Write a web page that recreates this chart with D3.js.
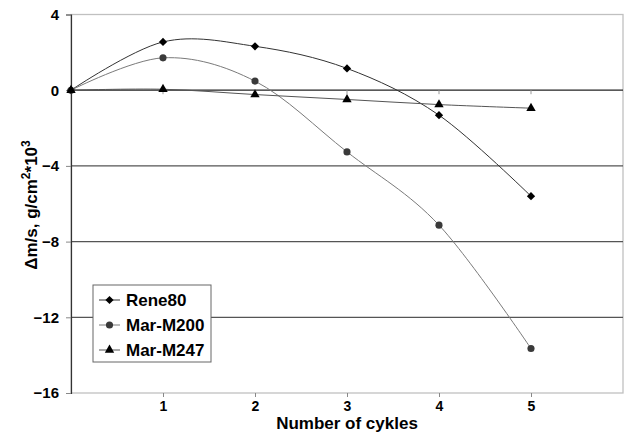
<!DOCTYPE html>
<html>
<head>
<meta charset="utf-8">
<script src="https://cdn.jsdelivr.net/npm/d3@7"></script>
<style>
body{margin:0;background:#fff;}
text{font-family:Arial,"Liberation Sans",sans-serif;font-weight:bold;fill:#000;}
</style>
</head>
<body>
<div id="chart"></div>
<script>
// cycles and mass change per alloy
var cycles = [0, 1, 2, 3, 4, 5];
var rene80 = [0, 2.55, 2.32, 1.15, -1.32, -5.6];
var marM200 = [0, 1.71, 0.48, -3.26, -7.13, -13.65];
var marM247 = [0, 0.05, -0.23, -0.49, -0.76, -0.95];
var yTicks = [4, 0, -4, -8, -12, -16];
var xTicks = [1, 2, 3, 4, 5];

var width = 627, height = 434;
var pLeft = 71, pRight = 623, pTop = 14.5, pBottom = 393;

var svg = d3.select("#chart").append("svg")
	.attr("width", width)
	.attr("height", height);

var x = d3.scaleLinear().domain([0, 6]).range([pLeft, pRight]);
var y = d3.scaleLinear().domain([-16, 4]).range([pBottom, pTop]);

// plot border (light grey)
svg.append("rect")
	.attr("x", pLeft).attr("y", pTop)
	.attr("width", pRight - pLeft).attr("height", pBottom - pTop)
	.attr("fill", "none").attr("stroke", "#c0c0c0").attr("stroke-width", 1.3);

// gridlines
svg.selectAll(".grid").data([0, -4, -8, -12]).enter().append("line")
	.attr("class", "grid")
	.attr("x1", pLeft).attr("x2", pRight)
	.attr("y1", function(d){ return y(d); })
	.attr("y2", function(d){ return y(d); })
	.attr("stroke", function(d){ return d == 0 ? "#222" : "#555"; })
	.attr("stroke-width", 1.2);

// left axis
var yAxis = d3.axisLeft(y).tickValues(yTicks).tickSize(5).tickPadding(7);
var gy = svg.append("g").attr("transform", "translate(" + pLeft + ",0)").call(yAxis);
gy.select(".domain").attr("stroke", "#333").attr("stroke-width", 1.2);
gy.selectAll(".tick line").attr("stroke", "#888");
gy.selectAll("text").style("font-size", "15px").style("font-family", "Arial,'Liberation Sans',sans-serif").style("font-weight", "bold").attr("fill", "#000");

// bottom labels
var xAxis = d3.axisBottom(x).tickValues(xTicks).tickSize(4).tickPadding(4).tickFormat(d3.format("d"));
var gx = svg.append("g").attr("transform", "translate(0," + pBottom + ")").call(xAxis);
gx.select(".domain").remove();
gx.selectAll(".tick line").attr("stroke", "#888");
gx.selectAll("text").style("font-size", "14px").style("font-family", "Arial,'Liberation Sans',sans-serif").style("font-weight", "bold").attr("fill", "#000");

// small ticks under the zero line
svg.selectAll(".zt").data(xTicks).enter().append("line")
	.attr("x1", function(d){ return x(d); }).attr("x2", function(d){ return x(d); })
	.attr("y1", y(0)).attr("y2", y(0) + 4)
	.attr("stroke", "#999");

var series = [
	{name:"Rene80", values:rene80, line:"#333", fill:"#000", sym:"diamond"},
	{name:"Mar-M200", values:marM200, line:"#7a7a7a", fill:"#3a3a3a", sym:"circle"},
	{name:"Mar-M247", values:marM247, line:"#555", fill:"#000", sym:"triangle"}
];

function symPath(s){
	if(s == "diamond") return d3.symbol().type(d3.symbolSquare).size(34)();
	if(s == "circle") return d3.symbol().type(d3.symbolCircle).size(40)();
	return d3.symbol().type(d3.symbolTriangle).size(38)();
}

var line = d3.line()
	.x(function(d){ return x(d[0]); })
	.y(function(d){ return y(d[1]); })
	.curve(d3.curveCardinal.tension(0));

series.forEach(function(s){
	var pts = cycles.map(function(c, i){ return [c, s.values[i]]; });
	svg.append("path").datum(pts)
		.attr("d", line)
		.attr("fill", "none")
		.attr("stroke", s.line)
		.attr("stroke-width", 1);
	svg.selectAll(".m" + s.sym).data(pts).enter().append("path")
		.attr("d", symPath(s.sym))
		.attr("fill", s.fill)
		.attr("transform", function(d){
			return "translate(" + x(d[0]) + "," + y(d[1]) + ")" + (s.sym == "diamond" ? " rotate(45)" : "");
		});
});

// legend
var lg = svg.append("g").attr("transform", "translate(93,285)");
lg.append("rect").attr("width", 118).attr("height", 77)
	.attr("fill", "#fff").attr("stroke", "#666").attr("stroke-width", 1);
series.forEach(function(s, i){
	var yy = 15 + i * 25;
	lg.append("line").attr("x1", 6).attr("x2", 27).attr("y1", yy).attr("y2", yy)
		.attr("stroke", s.line);
	lg.append("path").attr("d", symPath(s.sym)).attr("fill", s.fill)
		.attr("transform", "translate(16.5," + yy + ")" + (s.sym == "diamond" ? " rotate(45)" : ""));
	lg.append("text").attr("x", 33).attr("y", yy + 6).style("font-size", "17px").text(s.name);
});

// axis titles
svg.append("text")
	.attr("x", 347).attr("y", 429)
	.attr("text-anchor", "middle")
	.style("font-size", "17px")
	.text("Number of cykles");

var yt = svg.append("text")
	.attr("transform", "translate(37,205) rotate(-90)")
	.attr("text-anchor", "middle")
	.style("font-size", "17px");
yt.append("tspan").text("\u0394m/s, g/cm");
yt.append("tspan").attr("dy", -7).style("font-size", "12px").text("2");
yt.append("tspan").attr("dy", 7).text("*10");
yt.append("tspan").attr("dy", -7).style("font-size", "12px").text("3");
</script>
</body>
</html>
